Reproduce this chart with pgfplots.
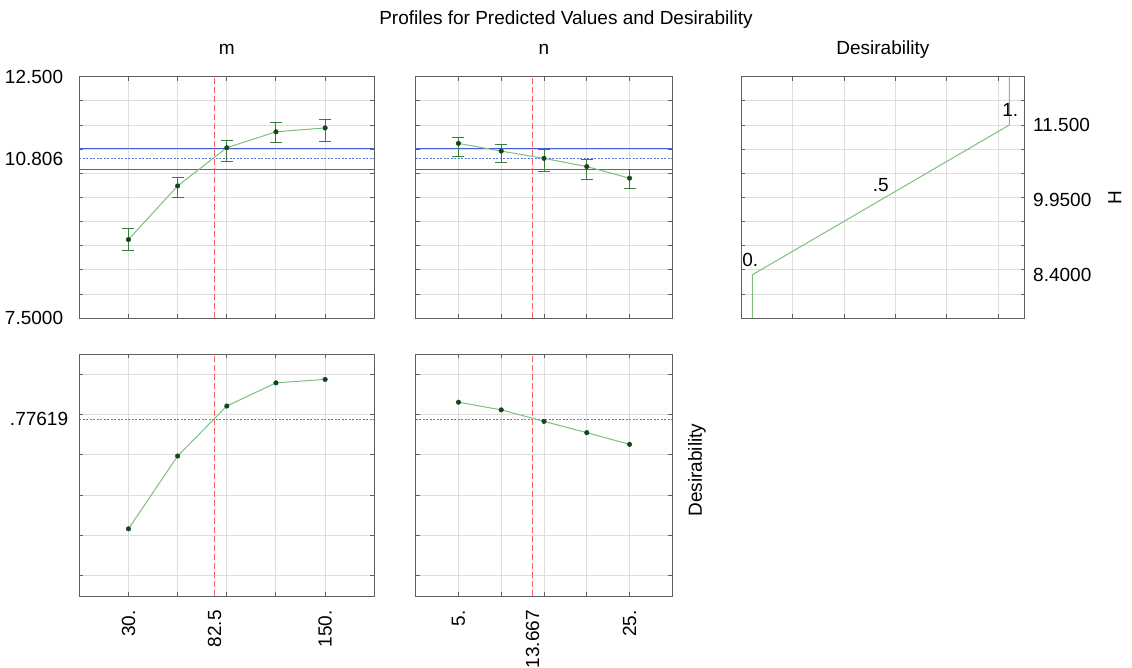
\documentclass[border=0pt]{standalone}
\usepackage{pgfplots}
\pgfplotsset{compat=1.18}
\usepackage{fontspec}
\setmainfont{Liberation Sans}
\definecolor{framec}{RGB}{95,95,95}
\definecolor{gridc}{RGB}{222,222,222}
\definecolor{bluec}{RGB}{70,95,215}
\definecolor{bluedot}{RGB}{95,115,225}
\definecolor{redc}{RGB}{255,95,95}
\definecolor{linec}{RGB}{125,190,125}
\definecolor{mkc}{RGB}{20,70,30}
\definecolor{ebc}{RGB}{55,125,60}
\begin{document}
\fontsize{19}{22}\selectfont
\begin{tikzpicture}
\useasboundingbox (0pt,0pt) rectangle (1132pt,-668pt);
\pgfplotsset{
  panel/.style={scale only axis, anchor=north west,
    axis line style={framec, line width=1pt},
    grid=major, grid style={gridc, line width=1pt},
    tick style={framec, line width=1pt}, major tick length=4pt,
    tick align=inside, xtick pos=both, ytick pos=both,
    every tick label/.append style={font=\fontsize{19}{22}\selectfont, inner sep=0pt},
    label style={font=\fontsize{19}{22}\selectfont},
    title style={font=\fontsize{19}{22}\selectfont, at={(axis description cs:0.5,1.069)}, anchor=base},
    extra x tick style={grid=none, major tick length=0pt},
    extra y tick style={grid=none, major tick length=0pt},
  },
  fitline/.style={draw=linec, line width=1pt, mark=none},
  cil/.style={draw=bluec, solid, line width=1.3pt, mark=none},
  dotl/.style={draw=bluedot, dash pattern=on 2pt off 1.5pt, line width=0.9pt, mark=none},
  pts/.style={only marks, mark=*, mark size=2.3pt, mark options={fill=mkc, draw=mkc}},
  redline/.style={draw=redc, dash pattern=on 6pt off 3pt, line width=1pt, mark=none},
  ebars/.style={error bars/.cd, y dir=both, y explicit,
    error bar style={draw=ebc, solid, line width=1pt},
    error mark options={draw=ebc, fill=ebc, solid, line width=1pt, mark size=6pt, rotate=90}},
}
\node[anchor=base, font=\fontsize{19}{22}\selectfont] at (566pt,-25pt) {Profiles for Predicted Values and Desirability};

% ---------- Panel A: m vs H
\begin{axis}[panel, at={(79.3pt,-76.7pt)}, width=295pt, height=241.6pt,
  xmin=0, xmax=180, ymin=7.5, ymax=12.5,
  xtick={30,60,90,120,150}, xticklabel=\empty,
  ytick={7.5,8,8.5,9,9.5,10,10.5,11,11.5,12,12.5}, yticklabel=\empty,
  extra y ticks={7.5,10.806,12.5}, extra y tick labels={7.5000,10.806,12.500},
  yticklabel shift=16pt, title={m}]
\addplot[cil] coordinates {(0,10.58) (180,10.58)};
\addplot[cil] coordinates {(0,11.02) (180,11.02)};
\addplot[dotl] coordinates {(0,10.806) (180,10.806)};
\addplot[redline] coordinates {(82.5,7.5) (82.5,12.5)};
\addplot[fitline] coordinates {(30,9.13) (60,10.24) (90,11.03) (120,11.36) (150,11.44)};
\addplot[pts, ebars]
  table[x=x, y=y, y error plus=ep, y error minus=em] {
x y ep em
30 9.13 0.22 0.23
60 10.24 0.17 0.23
90 11.03 0.15 0.29
120 11.36 0.20 0.22
150 11.44 0.18 0.28
};
\end{axis}

% ---------- Panel B: n vs H
\begin{axis}[panel, at={(415.7pt,-76.7pt)}, width=256.6pt, height=241.6pt,
  xmin=0, xmax=30, ymin=7.5, ymax=12.5,
  xtick={5,10,15,20,25}, xticklabel=\empty,
  ytick={7.5,8,8.5,9,9.5,10,10.5,11,11.5,12,12.5}, yticklabel=\empty,
  title={n}]
\addplot[cil] coordinates {(0,10.58) (30,10.58)};
\addplot[cil] coordinates {(0,11.02) (30,11.02)};
\addplot[dotl] coordinates {(0,10.806) (30,10.806)};
\addplot[redline] coordinates {(13.667,7.5) (13.667,12.5)};
\addplot[fitline] coordinates {(5,11.12) (10,10.96) (15,10.81) (20,10.64) (25,10.40)};
\addplot[pts, ebars]
  table[x=x, y=y, y error plus=ep, y error minus=em] {
x y ep em
5 11.12 0.12 0.28
10 10.96 0.14 0.23
15 10.81 0.18 0.28
20 10.64 0.15 0.27
25 10.40 0.18 0.22
};
\end{axis}

% ---------- Panel C: desirability function of H
\begin{axis}[panel, at={(741pt,-76.7pt)}, width=283.7pt, height=241.6pt,
  xmin=-0.044, xmax=1.06, ymin=7.5, ymax=12.5,
  xtick={0.157,0.357,0.557,0.757,0.957}, xticklabel=\empty,
  ytick={7.5,8,8.5,9,9.5,10,10.5,11,11.5,12,12.5}, yticklabel=\empty,
  ytick pos=both, yticklabel pos=right,
  extra y ticks={8.4,9.95,11.5}, extra y tick labels={8.4000,9.9500,11.500},
  yticklabel shift=8.3pt,
  title={Desirability},
  ylabel={H}, ylabel style={at={(axis description cs:1.318,0.5)}, anchor=center}]
\addplot[fitline] coordinates {(0,7.5) (0,8.4) (1,11.5) (1,12.5)};
\node[anchor=south, inner sep=0pt, yshift=8pt, xshift=-2pt] at (axis cs:0,8.4) {0.};
\node[anchor=south, inner sep=0pt, yshift=8pt] at (axis cs:0.5,9.95) {.5};
\node[anchor=south, inner sep=0pt, yshift=8pt, xshift=1pt] at (axis cs:1,11.5) {1.};
\end{axis}

% ---------- Panel D: m vs desirability
\begin{axis}[panel, at={(79.3pt,-354pt)}, width=295pt, height=242pt,
  xmin=0, xmax=180, ymin=-0.1, ymax=1.1,
  xtick={30,60,90,120,150}, xticklabels={30.,,,,150.},
  extra x ticks={82.5}, extra x tick labels={82.5},
  xticklabel style={rotate=90, anchor=east}, xticklabel shift=14pt,
  ytick={0,0.2,0.4,0.6,0.8,1}, yticklabel=\empty,
  extra y ticks={0.77619}, extra y tick labels={.77619},
  yticklabel shift=11pt]
\addplot[dotl] coordinates {(0,0.77619) (180,0.77619)};
\addplot[redline] coordinates {(82.5,-0.1) (82.5,1.1)};
\addplot[fitline] coordinates {(30,0.233) (60,0.594) (90,0.842) (120,0.957) (150,0.974)};
\addplot[pts] coordinates {(30,0.233) (60,0.594) (90,0.842) (120,0.957) (150,0.974)};
\end{axis}

% ---------- Panel E: n vs desirability
\begin{axis}[panel, at={(415.7pt,-354pt)}, width=256.6pt, height=242pt,
  xmin=0, xmax=30, ymin=-0.1, ymax=1.1,
  xtick={5,10,15,20,25}, xticklabels={5.,,,,25.},
  extra x ticks={13.667}, extra x tick labels={13.667},
  xticklabel style={rotate=90, anchor=east}, xticklabel shift=14pt,
  ytick={0,0.2,0.4,0.6,0.8,1}, yticklabel=\empty,
  ylabel={Desirability}, ylabel style={at={(axis description cs:1.096,0.52)}, anchor=center}]
\addplot[dotl] coordinates {(0,0.77619) (30,0.77619)};
\addplot[redline] coordinates {(13.667,-0.1) (13.667,1.1)};
\addplot[fitline] coordinates {(5,0.861) (10,0.823) (15,0.766) (20,0.710) (25,0.652)};
\addplot[pts] coordinates {(5,0.861) (10,0.823) (15,0.766) (20,0.710) (25,0.652)};
\end{axis}
\end{tikzpicture}
\end{document}
